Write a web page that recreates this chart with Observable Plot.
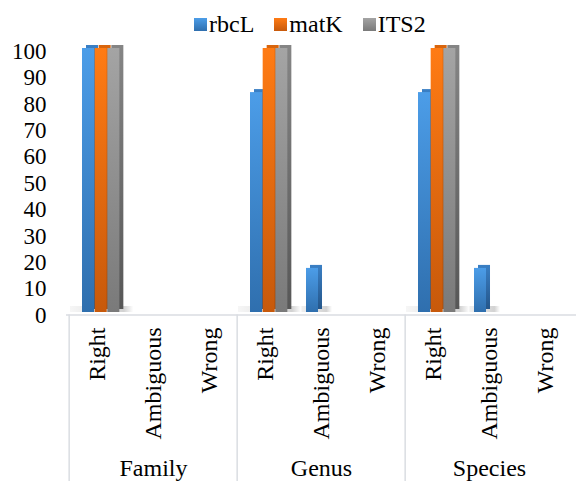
<!DOCTYPE html>
<html><head><meta charset="utf-8">
<script src="https://cdn.jsdelivr.net/npm/d3@7"></script>
<script src="https://cdn.jsdelivr.net/npm/@observablehq/plot@0.6"></script>
</head><body style="margin:0;background:#fff;color:#000;font-family:'Liberation Serif'">
<div id="legend" style="height:36px;box-sizing:border-box;padding-top:12px;padding-left:194px;display:flex;font-size:24px;line-height:24px;font-family:'Liberation Serif'"></div>
<div id="chart"></div>
<script>
const groups = ["Family", "Genus", "Species"];
const subs = ["Right", "Ambiguous", "Wrong"];
const seriesNames = ["rbcL", "matK", "ITS2"];
const rbcL = [100, 0, 0, 83.3, 16.7, 0, 83.3, 16.7, 0];
const matK = [100, 0, 0, 100, 0, 0, 100, 0, 0];
const ITS2 = [100, 0, 0, 100, 0, 0, 100, 0, 0];
const yTicks = [0, 10, 20, 30, 40, 50, 60, 70, 80, 90, 100];

const FONT = "Liberation Serif";
const seriesValues = [rbcL, matK, ITS2];
const front = [["#4c9de8", "#2f6fae"], ["#ff7b14", "#c7590b"], ["#a4a4a4", "#7a7a7a"]];
const side = [["#3a7fc4", "#24568a"], ["#d8650e", "#9c4608"], ["#858585", "#575757"]];

const keys = [];
groups.forEach(g => subs.forEach(s => keys.push(g + "|" + s)));
const rows = [];
seriesNames.forEach((name, si) => {
  seriesValues[si].forEach((v, k) => {
    rows.push({key: keys[k], series: name, si, value: v});
  });
});
const shadowRows = keys.map((key, k) => {
  let n = 0;
  seriesValues.forEach((vals, si) => { if (vals[k] > 0) n = si + 1; });
  return {key, n};
}).filter(d => d.n > 0);

const legend = document.getElementById("legend");
seriesNames.forEach((name, i) => {
  const it = document.createElement("div");
  it.style.cssText = "display:flex;align-items:center;margin-right:20px;";
  it.style.fontFamily = FONT;
  const sw = document.createElement("span");
  sw.style.cssText = "width:13px;height:13px;margin-right:2px;display:inline-block;";
  sw.style.background = `linear-gradient(${front[i][0]}, ${front[i][1]})`;
  it.appendChild(sw);
  it.appendChild(document.createTextNode(name));
  legend.appendChild(it);
});

const W = 576, H = 445, ML = 66, MR = 0, MT = 12, MB = 169;
const bw = (W - ML - MR) / keys.length;
const offset = 13, barW = 12.67;

function defs() {
  const d = d3.create("svg:defs");
  [front, side].forEach((set, j) => {
    set.forEach((c, i) => {
      const g = d.append("linearGradient").attr("id", (j ? "side" : "front") + i)
        .attr("x1", 0).attr("y1", 0).attr("x2", 0).attr("y2", 1);
      g.append("stop").attr("offset", "0%").attr("stop-color", c[0]);
      g.append("stop").attr("offset", "100%").attr("stop-color", c[1]);
    });
  });
  const s = d.append("linearGradient").attr("id", "shadow")
    .attr("x1", 0).attr("y1", 0).attr("x2", 1).attr("y2", 0);
  s.append("stop").attr("offset", "0%").attr("stop-color", "#f6f6f6");
  s.append("stop").attr("offset", "60%").attr("stop-color", "#e0e0e0");
  s.append("stop").attr("offset", "85%").attr("stop-color", "#d2d2d2");
  s.append("stop").attr("offset", "100%").attr("stop-color", "#ffffff");
  return d.node();
}

const marks = [defs];
[1, 2, 3].forEach(n => {
  marks.push(Plot.barY(shadowRows.filter(d => d.n === n), {
    x: "key", y1: 0, y2: 0, insetTop: -6,
    insetLeft: 1, insetRight: bw - (offset + barW * n + 14),
    fill: "url(#shadow)"
  }));
});
marks.push(Plot.ruleY([0], {dy: 2.5, stroke: "#dadde2", strokeWidth: 1.5}));
marks.push(Plot.ruleX(groups.map(g => g + "|" + subs[0]), {
  dx: -bw / 2, insetTop: (H - MT - MB) + 2.5, insetBottom: -MB,
  stroke: "#dadde2", strokeWidth: 1.5
}));
seriesNames.forEach((name, si) => {
  const data = rows.filter(d => d.si === si && d.value > 0);
  const insetLeft = offset + barW * si;
  const insetRight = bw - (offset + barW * (si + 1));
  marks.push(Plot.barY(data, {x: "key", y: "value", insetLeft, insetRight, dx: 4, dy: -3, fill: `url(#side${si})`}));
  marks.push(Plot.barY(data, {x: "key", y: "value", insetLeft, insetRight, fill: `url(#front${si})`}));
});
marks.push(Plot.axisY({ticks: yTicks, tickSize: 0, tickPadding: 20, fontSize: 23, dy: 3, label: null, fill: "#000"}));
marks.push(Plot.axisX({tickFormat: d => d.split("|")[1], tickRotate: -90, tickSize: 0, tickPadding: 15, fontSize: 24, label: null, fill: "#000"}));
marks.push(Plot.text(groups, {x: g => g + "|" + subs[1], text: d => d, frameAnchor: "bottom", dy: 156, fontSize: 24, lineAnchor: "middle", fill: "#000"}));

const chart = Plot.plot({
  width: W, height: H,
  marginLeft: ML, marginRight: MR, marginTop: MT, marginBottom: MB,
  style: "font-family:'Liberation Serif';background:#fff;color:#000;overflow:visible;",
  x: {domain: keys, padding: 0},
  y: {domain: [0, 100]},
  marks
});
chart.setAttribute("font-family", FONT);
chart.querySelectorAll("g, text").forEach(el => el.setAttribute("font-family", FONT));
chart.querySelectorAll("text").forEach(el => { el.style.fontFamily = "'Liberation Serif'"; });
document.getElementById("chart").appendChild(chart);
</script>
</body></html>
